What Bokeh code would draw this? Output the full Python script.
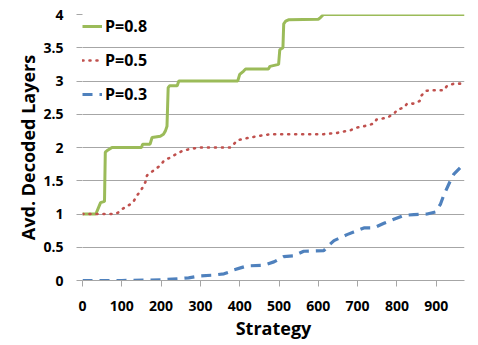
from bokeh.plotting import figure
from bokeh.models import Range1d, FixedTicker, Legend, LegendItem, BoxAnnotation
from bokeh.embed import file_html
from bokeh.resources import INLINE

# ---- data ----
x_p08 = [0, 34, 41, 46, 56, 58, 62, 70, 75, 150, 153, 172, 177, 198, 206, 211, 215, 218, 222, 241, 245,
         395, 400, 410, 415, 473, 477, 499, 502, 510, 512, 517, 524, 600, 605, 613, 972]
y_p08 = [1.0, 1.0, 1.1, 1.17, 1.19, 1.93, 1.95, 1.98, 2.0, 2.0, 2.05, 2.05, 2.15, 2.17, 2.2, 2.25, 2.32, 2.9, 2.93, 2.93, 3.0,
         3.0, 3.1, 3.15, 3.18, 3.18, 3.22, 3.25, 3.47, 3.5, 3.86, 3.9, 3.92, 3.93, 3.95, 4.0, 4.0]

x_p05 = [0, 20, 40, 60, 80, 90, 100, 112, 125, 131, 139, 148, 155, 160, 164, 180, 198, 207, 220, 232, 254,
         275, 300, 340, 377, 385, 394, 410, 444, 478, 520, 560, 614, 648, 682, 699, 724, 741, 748, 776, 793,
         801, 818, 826, 843, 858, 862, 873, 885, 919, 928, 945, 962]
y_p05 = [1.0, 1.0, 1.0, 1.0, 1.0, 1.02, 1.07, 1.11, 1.16, 1.2, 1.28, 1.35, 1.42, 1.48, 1.58, 1.65, 1.73, 1.8, 1.84, 1.88, 1.95,
         1.98, 2.0, 2.0, 2.0, 2.05, 2.11, 2.13, 2.17, 2.2, 2.2, 2.2, 2.2, 2.22, 2.26, 2.3, 2.33, 2.36, 2.42, 2.45, 2.51,
         2.57, 2.6, 2.66, 2.66, 2.7, 2.78, 2.85, 2.86, 2.86, 2.93, 2.96, 2.96]

x_p03 = [0, 100, 200, 250, 270, 300, 330, 360, 375, 385, 402, 419, 461, 487, 512, 537, 563, 614, 627, 640,
         673, 690, 716, 741, 767, 788, 818, 843, 877, 898, 911, 919, 936, 945, 962, 968]
y_p03 = [0.0, 0.0, 0.01, 0.03, 0.04, 0.07, 0.08, 0.1, 0.13, 0.16, 0.19, 0.22, 0.23, 0.28, 0.36, 0.37, 0.44, 0.45, 0.53, 0.6,
         0.69, 0.73, 0.79, 0.79, 0.86, 0.91, 0.98, 0.99, 1.0, 1.03, 1.15, 1.28, 1.5, 1.6, 1.7, 1.7]

series_labels = ["P=0.8", "P=0.5", "P=0.3"]
x_ticks = [0, 100, 200, 300, 400, 500, 600, 700, 800, 900]
y_ticks = [0, 0.5, 1, 1.5, 2, 2.5, 3, 3.5, 4]
y_tick_labels = ["0", "0.5", "1", "1.5", "2", "2.5", "3", "3.5", "4"]
x_title = "Strategy"
y_title = "Avd. Decoded Layers"

FONT = "Open Sans"
GRID = "#a6a6a6"

p = figure(width=478, height=345, output_backend="svg", toolbar_location=None,
           x_range=Range1d(0, 972), y_range=Range1d(0, 4),
           min_border_left=82, min_border_right=14, min_border_top=14, min_border_bottom=65)
p.outline_line_color = None
p.background_fill_color = "white"
p.border_fill_color = "white"

# outer chart border
p.add_layout(BoxAnnotation(left=12.5, right=477.5, top=2.5, bottom=342.5,
                           left_units="canvas", right_units="canvas",
                           top_units="canvas", bottom_units="canvas",
                           fill_color=None, fill_alpha=0, line_color="#8c8c8c", line_alpha=1,
                           line_width=1, level="overlay", propagate_hover=False))

r1 = p.line(x_p08, y_p08, line_color="#9bbb59", line_width=3)
r2 = p.line(x_p05, y_p05, line_color="#c0504d", line_width=2.6, line_dash="1 6", line_cap="round")
r3 = p.line(x_p03, y_p03, line_color="#4f81bd", line_width=3.2, line_dash="10 7")

p.xgrid.grid_line_color = None
p.ygrid.grid_line_color = GRID
p.ygrid.ticker = FixedTicker(ticks=y_ticks)

xa = p.xaxis[0]
xa.ticker = FixedTicker(ticks=x_ticks)
xa.axis_line_color = GRID
xa.major_tick_line_color = GRID
xa.major_tick_out = 6
xa.major_tick_in = 0
xa.minor_tick_line_color = None
xa.major_label_text_font = FONT
xa.major_label_text_font_style = "bold"
xa.major_label_text_font_size = "14px"
xa.major_label_text_color = "black"
xa.major_label_standoff = 14
xa.axis_label = x_title
xa.axis_label_text_font = FONT
xa.axis_label_text_font_style = "bold"
xa.axis_label_text_font_size = "18px"
xa.axis_label_text_color = "black"
xa.axis_label_standoff = 2

ya = p.yaxis[0]
ya.ticker = FixedTicker(ticks=y_ticks)
ya.major_label_overrides = {t: l for t, l in zip(y_ticks, y_tick_labels)}
ya.axis_line_color = None
ya.major_tick_line_color = GRID
ya.major_tick_out = 6
ya.major_tick_in = 0
ya.minor_tick_line_color = None
ya.major_label_text_font = FONT
ya.major_label_text_font_style = "bold"
ya.major_label_text_font_size = "14px"
ya.major_label_text_color = "black"
ya.major_label_standoff = 13
ya.axis_label = y_title
ya.axis_label_text_font = FONT
ya.axis_label_text_font_style = "bold"
ya.axis_label_text_font_size = "18px"
ya.axis_label_text_color = "black"
ya.axis_label_standoff = 0

legend = Legend(items=[LegendItem(label=series_labels[0], renderers=[r1]),
                       LegendItem(label=series_labels[1], renderers=[r2]),
                       LegendItem(label=series_labels[2], renderers=[r3])],
                location="top_left")
legend.margin = 0
legend.padding = 5
legend.glyph_width = 20
legend.glyph_height = 24
legend.label_height = 24
legend.spacing = 10
legend.label_standoff = 3
legend.border_line_color = None
legend.background_fill_alpha = 0
legend.label_text_font = FONT
legend.label_text_font_style = "bold"
legend.label_text_font_size = "16px"
legend.label_text_color = "black"
p.add_layout(legend)

open("out.html", "w").write(file_html(p, INLINE))
